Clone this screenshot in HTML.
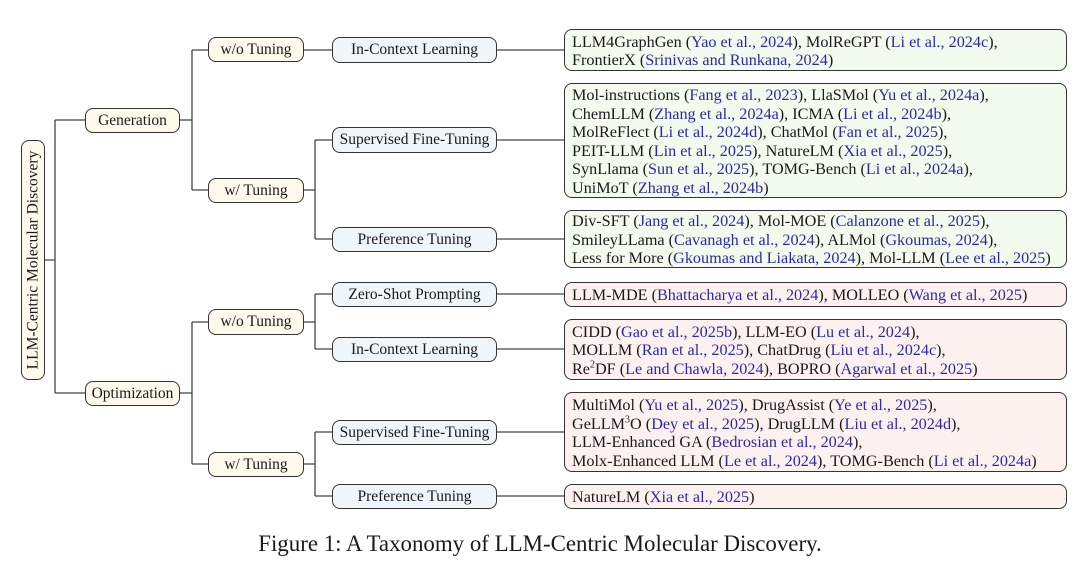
<!DOCTYPE html>
<html><head><meta charset="utf-8"><style>
body{margin:0;background:#fff;}
#c{position:relative;width:1080px;height:568px;overflow:hidden;font-family:"Liberation Serif",serif;color:#1a1a1a;}
.n{position:absolute;box-sizing:border-box;border:1.3px solid #333;border-radius:8px;display:flex;align-items:center;justify-content:center;font-size:15.5px;white-space:nowrap;}
.y{background:#fdfaec;}
.b{background:#eef5fb;}
.l{position:absolute;box-sizing:border-box;border:1.3px solid #333;border-radius:8px;font-size:16.2px;line-height:18.5px;padding:2px 0 0 7px;white-space:nowrap;display:flex;flex-direction:column;justify-content:center;}
.g{background:#f3fbef;}
.r{background:#fdf1f0;}
.c{color:#2b2b9e;}
sup{font-size:10px;line-height:0;}
#cap{position:absolute;left:0;width:1080px;top:531px;text-align:center;font-size:22.9px;}
</style></head><body><div id="c">
<svg width="1080" height="568" style="position:absolute;left:0;top:0" fill="none" stroke="#444" stroke-width="1.3">
<path d="M45 260H55M55 120V393M55 120H85M55 393H85"/>
<path d="M180 120H192M192 50V190M192 50H208M192 190H208"/>
<path d="M180 393H192M192 322V464M192 322H208M192 464H208"/>
<path d="M304 50H332"/>
<path d="M304 190H315M315 140V239M315 140H332M315 239H332"/>
<path d="M304 322H315M315 294V349M315 294H332M315 349H332"/>
<path d="M304 464H315M315 432V496M315 432H332M315 496H332"/>
<path d="M497 50H564M497 140H564M497 239H564M497 294H564M497 349H564M497 432H564M497 496H564"/>
</svg>
<div class="n y" style="left:21px;top:140px;width:24px;height:240px;"><span style="transform:rotate(-90deg);display:inline-block;">LLM-Centric Molecular Discovery</span></div>
<div class="n y" style="left:85px;top:108px;width:95px;height:25px;">Generation</div>
<div class="n y" style="left:85px;top:381px;width:95px;height:25px;">Optimization</div>
<div class="n y" style="left:208px;top:37px;width:96px;height:25px;">w/o Tuning</div>
<div class="n y" style="left:208px;top:178px;width:96px;height:25px;">w/ Tuning</div>
<div class="n y" style="left:208px;top:309px;width:96px;height:26px;">w/o Tuning</div>
<div class="n y" style="left:208px;top:452px;width:96px;height:25px;">w/ Tuning</div>
<div class="n b" style="left:332px;top:37px;width:165px;height:26px;">In-Context Learning</div>
<div class="n b" style="left:332px;top:127px;width:165px;height:26px;">Supervised Fine-Tuning</div>
<div class="n b" style="left:332px;top:227px;width:165px;height:25px;">Preference Tuning</div>
<div class="n b" style="left:332px;top:282px;width:165px;height:25px;">Zero-Shot Prompting</div>
<div class="n b" style="left:332px;top:337px;width:165px;height:25px;">In-Context Learning</div>
<div class="n b" style="left:332px;top:420px;width:165px;height:25px;">Supervised Fine-Tuning</div>
<div class="n b" style="left:332px;top:484px;width:165px;height:25px;">Preference Tuning</div>

<div class="l g" style="left:564px;top:29px;width:503px;height:42px;">
<div>LLM4GraphGen (<span class="c">Yao et al., 2024</span>), MolReGPT (<span class="c">Li et al., 2024c</span>),</div>
<div>FrontierX (<span class="c">Srinivas and Runkana, 2024</span>)</div></div>
<div class="l g" style="left:564px;top:83px;width:503px;height:115px;">
<div>Mol-instructions (<span class="c">Fang et al., 2023</span>), LlaSMol (<span class="c">Yu et al., 2024a</span>),</div>
<div>ChemLLM (<span class="c">Zhang et al., 2024a</span>), ICMA (<span class="c">Li et al., 2024b</span>),</div>
<div>MolReFlect (<span class="c">Li et al., 2024d</span>), ChatMol (<span class="c">Fan et al., 2025</span>),</div>
<div>PEIT-LLM (<span class="c">Lin et al., 2025</span>), NatureLM (<span class="c">Xia et al., 2025</span>),</div>
<div>SynLlama (<span class="c">Sun et al., 2025</span>), TOMG-Bench (<span class="c">Li et al., 2024a</span>),</div>
<div>UniMoT (<span class="c">Zhang et al., 2024b</span>)</div></div>
<div class="l g" style="left:564px;top:210px;width:503px;height:58px;">
<div>Div-SFT (<span class="c">Jang et al., 2024</span>), Mol-MOE (<span class="c">Calanzone et al., 2025</span>),</div>
<div>SmileyLLama (<span class="c">Cavanagh et al., 2024</span>), ALMol (<span class="c">Gkoumas, 2024</span>),</div>
<div>Less for More (<span class="c">Gkoumas and Liakata, 2024</span>), Mol-LLM (<span class="c">Lee et al., 2025</span>)</div></div>

<div class="l r" style="left:564px;top:282px;width:503px;height:25px;">
<div>LLM-MDE (<span class="c">Bhattacharya et al., 2024</span>), MOLLEO (<span class="c">Wang et al., 2025</span>)</div></div>
<div class="l r" style="left:564px;top:319px;width:503px;height:61px;">
<div>CIDD (<span class="c">Gao et al., 2025b</span>), LLM-EO (<span class="c">Lu et al., 2024</span>),</div>
<div>MOLLM (<span class="c">Ran et al., 2025</span>), ChatDrug (<span class="c">Liu et al., 2024c</span>),</div>
<div>Re<sup>2</sup>DF (<span class="c">Le and Chawla, 2024</span>), BOPRO (<span class="c">Agarwal et al., 2025</span>)</div></div>
<div class="l r" style="left:564px;top:392px;width:503px;height:80px;">
<div>MultiMol (<span class="c">Yu et al., 2025</span>), DrugAssist (<span class="c">Ye et al., 2025</span>),</div>
<div>GeLLM<sup>3</sup>O (<span class="c">Dey et al., 2025</span>), DrugLLM (<span class="c">Liu et al., 2024d</span>),</div>
<div>LLM-Enhanced GA (<span class="c">Bedrosian et al., 2024</span>),</div>
<div>Molx-Enhanced LLM (<span class="c">Le et al., 2024</span>), TOMG-Bench (<span class="c">Li et al., 2024a</span>)</div></div>
<div class="l r" style="left:564px;top:484px;width:503px;height:25px;">
<div>NatureLM (<span class="c">Xia et al., 2025</span>)</div></div>

<div id="cap">Figure 1: A Taxonomy of LLM-Centric Molecular Discovery.</div>
</div></body></html>
